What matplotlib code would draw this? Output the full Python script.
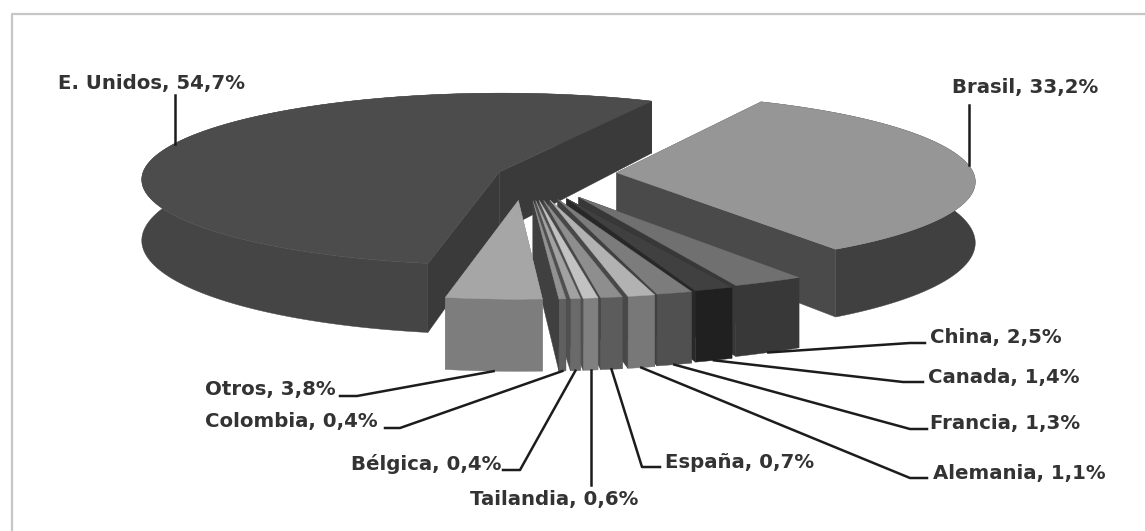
import numpy as np
import matplotlib
matplotlib.use('Agg')
import matplotlib.pyplot as plt

# Shares in percent, in clockwise order starting at Brasil
countries = ['Brasil', 'China', 'Canada', 'Francia', 'Alemania', 'España',
             'Tailandia', 'Bélgica', 'Colombia', 'Otros', 'E. Unidos']
shares = [33.2, 2.5, 1.4, 1.3, 1.1, 0.7, 0.6, 0.4, 0.4, 3.8, 54.7]

# Slice styling, same order
top_colors = ['#969696', '#707070', '#404040', '#7c7c7c', '#b2b2b2', '#8e8e8e',
              '#c2c2c2', '#a2a2a2', '#929292', '#a6a6a6', '#4c4c4c']
wall_colors = ['#404040', '#383838', '#202020', '#505050', '#787878', '#5c5c5c',
               '#808080', '#6a6a6a', '#606060', '#7d7d7d', '#454545']
cut_colors = ['#4a4a4a', '#383838', '#282828', '#404040', '#484848', '#484848',
              '#505050', '#505050', '#404040', '#7d7d7d', '#3a3a3a']
explode = [92, 108, 108, 108, 108, 108, 108, 108, 108, 108, 27]
# widening and sideways nudge of the outer edge of each slice
rim_stretch = [1, 1.2, 1.15, 1.12, 1.0, 1.25, 1, 1, 0.7, 1.02, 1]
rim_shift = [0, -6, -5, -4, 0, -1, -1, 0, 0, 0, 0]

# Label layout: text x, text y, leader end, leader bend (None keeps x of the start)
label_pos = [(952, 88), (930, 338), (928, 378), (930, 423), (933, 473), (665, 463),
             (470, 500), (351, 464), (205, 421), (205, 389), (58, 84)]
leader_bend = [(None, 105), (910, 343), (903, 382), (910, 429), (910, 478), (642, 467),
               (None, 485), (520, 470), (400, 428), (357, 396), (None, 95)]
leader_end = [None, (925, 343), (923, 382), (927, 429), (927, 478), (660, 467),
              None, (503, 470), (385, 428), (340, 396), None]
# rim angle where the two big slices take their leader
leader_theta = {'Brasil': 85, 'E. Unidos': 290}

# Projection of the pie plane onto the canvas
cx, cy = 525, 174
radius = 357
squash = 0.24
persp = 0.000234
start_angle = 27


def project(X, Y):
    m = 1 / (1 - persp * Y)
    return cx + X * m, cy + squash * Y * m


def wall_height(Y):
    return 60.3 + 0.0256 * Y


def world(theta_deg, r, offset):
    t = np.radians(theta_deg)
    return offset[0] + r * np.sin(t), offset[1] - r * np.cos(t)


fig = plt.figure(figsize=(11.45, 5.31), dpi=100)
ax = fig.add_axes([0, 0, 1, 1])
ax.set_xlim(0, 1145)
ax.set_ylim(531, 0)
ax.axis('off')

# only the top and left sides of the frame
ax.plot([11.5, 11.5, 1145], [531, 13.5, 13.5], color='#c6c6c6', lw=1.6, zorder=1)

fracs = np.array(shares) / sum(shares) * 360
starts = start_angle + np.concatenate([[0], np.cumsum(fracs)[:-1]])
ends = starts + fracs
mids = (starts + ends) / 2
offsets = [world(m, e, (0, 0)) for m, e in zip(mids, explode)]

# back slices first, then the fan from right to left
draw_order = [10, 0, 1, 2, 3, 4, 5, 6, 7, 8, 9]
for i in draw_order:
    off = offsets[i]
    thetas = np.linspace(starts[i], ends[i], 160)
    rim = np.array([world(t, radius, off) for t in thetas])
    mid_x = world(mids[i], radius, off)[0]
    rim[:, 0] = mid_x + (rim[:, 0] - mid_x) * rim_stretch[i] + rim_shift[i]
    tx, ty = project(rim[:, 0], rim[:, 1])
    bot = ty + wall_height(rim[:, 1])

    apex_x, apex_y = project(off[0], off[1])
    apex_bot = apex_y + wall_height(off[1])

    # hidden cut face, outer wall, visible cut face, then the top
    ax.fill([apex_x, tx[0], tx[0], apex_x], [apex_y, ty[0], bot[0], apex_bot],
            color=cut_colors[i], lw=0.3, zorder=2)
    ax.fill(np.r_[tx, tx[::-1]], np.r_[ty, bot[::-1]], color=wall_colors[i], lw=0.3, zorder=2)
    ax.fill([apex_x, tx[-1], tx[-1], apex_x], [apex_y, ty[-1], bot[-1], apex_bot],
            color=cut_colors[i], lw=0.3, zorder=2)
    ax.fill(np.r_[apex_x, tx], np.r_[apex_y, ty], color=top_colors[i], lw=0.3, zorder=2)

for i, name in enumerate(countries):
    off = offsets[i]
    if name in leader_theta:
        X, Y = world(leader_theta[name], radius, off)
        sx, sy = project(X, Y)
    else:
        X, Y = world(mids[i], radius, off)
        X = X + rim_shift[i]
        sx, sy = project(X, Y)
        sy = sy + wall_height(Y)
    bx, by = leader_bend[i]
    if bx is None:
        bx = sx
    xs, ys = [sx, bx], [sy, by]
    if leader_end[i] is not None:
        xs.append(leader_end[i][0])
        ys.append(leader_end[i][1])
    ax.plot(xs, ys, color='#1c1c1c', lw=1.8, solid_joinstyle='round', zorder=3)

    pct = f'{shares[i]:.1f}'.replace('.', ',')
    ax.text(label_pos[i][0], label_pos[i][1], f'{name}, {pct}%', fontsize=14.2, fontweight='bold',
            family='DejaVu Sans', color='#333333', ha='left', va='center', zorder=4)

plt.savefig('out.png', dpi=100)
